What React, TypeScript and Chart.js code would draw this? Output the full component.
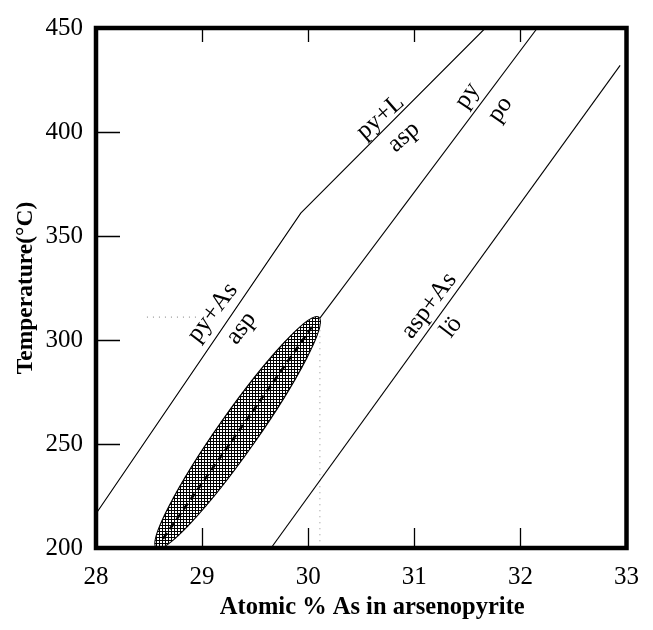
import { useEffect, useRef } from "react";
import { Chart, registerables } from "chart.js";
Chart.register(...registerables);

// ---- data ----
const xTickValues = [28, 29, 30, 31, 32, 33];
const yTickValues = [200, 250, 300, 350, 400, 450];
const innerXTicks = [29, 30, 31, 32];
const innerYTicks = [250, 300, 350, 400];

const aspUpperX = [28, 29.93, 31.67];
const aspUpperY = [216.5, 361, 450];
const pyPoX = [30.11, 32.16];
const pyPoY = [310.5, 450];
const aspLoX = [29.65, 32.94];
const aspLoY = [200, 432];
const dropX = [30.11, 30.11];
const dropY = [310.5, 200];
const guideX = [28.48, 28.97];
const guideY = [311, 311];
const fieldX = [28.57, 30.1];
const fieldY = [200, 311];

const labelTexts = ["py+L", "asp", "py", "po", "py+As", "asp", "asp+As", "lö"];
const labelX = [30.68, 30.9, 31.5, 31.81, 29.1, 29.37, 31.14, 31.35];
const labelY = [407.1, 397.6, 417.5, 410.8, 313.2, 305.7, 316.5, 306.1];

const xTitle = "Atomic % As in arsenopyrite";
const yTitle = "Temperature(°C)";

// ---- styles ----
const labelAngles = [-41, -41, -56, -55, -53, -53, -53, -53];
const FIELD_HALF_WIDTH = 19.5;
const SERIF = "'Liberation Serif', 'Times New Roman', serif";
const X_TITLE_SHIFT = 11;
const X_TITLE_Y = 608;

const pts = (xs: number[], ys: number[]) => xs.map((x, i) => ({ x, y: ys[i] }));

function makePattern(ctx: CanvasRenderingContext2D) {
  const t = document.createElement("canvas");
  t.width = 3;
  t.height = 3;
  const c = t.getContext("2d")!;
  c.fillStyle = "#fff";
  c.fillRect(0, 0, 3, 3);
  c.fillStyle = "#000";
  c.fillRect(0, 0, 3, 1);
  c.fillRect(0, 0, 1, 3);
  return ctx.createPattern(t, "repeat");
}

const overlay = {
  id: "overlay",
  beforeDatasetsDraw(chart: any) {
    const { ctx, chartArea: a } = chart;
    const xs = chart.scales.x;
    const ys = chart.scales.y;
    const x1 = xs.getPixelForValue(fieldX[0]);
    const y1 = ys.getPixelForValue(fieldY[0]);
    const x2 = xs.getPixelForValue(fieldX[1]);
    const y2 = ys.getPixelForValue(fieldY[1]);
    const cx = (x1 + x2) / 2;
    const cy = (y1 + y2) / 2;
    const half = Math.hypot(x2 - x1, y2 - y1) / 2;
    const ang = Math.atan2(y2 - y1, x2 - x1);
    ctx.save();
    ctx.beginPath();
    ctx.rect(a.left, a.top, a.right - a.left, a.bottom - a.top);
    ctx.clip();
    ctx.beginPath();
    ctx.ellipse(cx, cy, half, FIELD_HALF_WIDTH, ang, 0, Math.PI * 2);
    ctx.fillStyle = makePattern(ctx) as any;
    ctx.fill();
    ctx.lineWidth = 1.2;
    ctx.strokeStyle = "#000";
    ctx.stroke();
    ctx.beginPath();
    ctx.setLineDash([7, 5]);
    ctx.lineWidth = 2.5;
    ctx.moveTo(x1 + (x2 - x1) * 0.04, y1 + (y2 - y1) * 0.04);
    ctx.lineTo(x2 - (x2 - x1) * 0.04, y2 - (y2 - y1) * 0.04);
    ctx.stroke();
    ctx.restore();
  },
  afterDraw(chart: any) {
    const { ctx, chartArea: a } = chart;
    const xs = chart.scales.x;
    const ys = chart.scales.y;
    ctx.save();
    ctx.fillStyle = "#000";
    // x title
    ctx.font = `bold 24.5px ${SERIF}`;
    ctx.textAlign = "center";
    ctx.textBaseline = "middle";
    ctx.fillText(xTitle, (a.left + a.right) / 2 + X_TITLE_SHIFT, X_TITLE_Y);
    // labels
    ctx.font = `25px ${SERIF}`;
    labelTexts.forEach((t, i) => {
      ctx.save();
      ctx.translate(xs.getPixelForValue(labelX[i]), ys.getPixelForValue(labelY[i]));
      ctx.rotate((labelAngles[i] * Math.PI) / 180);
      ctx.fillText(t, 0, 0);
      ctx.restore();
    });
    // inner ticks
    ctx.strokeStyle = "#000";
    ctx.lineWidth = 1.3;
    ctx.beginPath();
    innerXTicks.forEach((v) => {
      const px = Math.round(xs.getPixelForValue(v)) + 0.5;
      ctx.moveTo(px, a.bottom);
      ctx.lineTo(px, a.bottom - 20);
      ctx.moveTo(px, a.top);
      ctx.lineTo(px, a.top + 14);
    });
    innerYTicks.forEach((v) => {
      const py = Math.round(ys.getPixelForValue(v)) + 0.5;
      ctx.moveTo(a.left, py);
      ctx.lineTo(a.left + 24, py);
    });
    ctx.stroke();
    // frame
    ctx.lineWidth = 4.5;
    ctx.strokeRect(a.left, a.top, a.right - a.left, a.bottom - a.top);
    ctx.restore();
  },
};

export default function App() {
  const ref = useRef<HTMLCanvasElement>(null);
  useEffect(() => {
    document.body.style.margin = "0";
    const line = (data: any[], extra: any = {}) => ({
      data,
      showLine: true,
      borderColor: "#000",
      borderWidth: 1.1,
      pointRadius: 0,
      fill: false,
      tension: 0,
      ...extra,
    });
    const chart = new Chart(ref.current!, {
      type: "scatter",
      data: {
        datasets: [
          line(pts(aspUpperX, aspUpperY)),
          line(pts(pyPoX, pyPoY)),
          line(pts(aspLoX, aspLoY)),
          line(pts(dropX, dropY), { borderColor: "#999", borderDash: [1, 5] }),
          line(pts(guideX, guideY), { borderColor: "#999", borderDash: [1, 5] }),
        ],
      },
      options: {
        animation: false,
        responsive: false,
        events: [],
        layout: { padding: { top: 18, right: 21, left: 0, bottom: 0 } },
        plugins: { legend: { display: false }, tooltip: { enabled: false } },
        scales: {
          x: {
            type: "linear",
            min: 28,
            max: 33,
            afterBuildTicks: (s: any) => {
              s.ticks = xTickValues.map((v) => ({ value: v }));
            },
            afterFit: (s: any) => {
              s.height = 82;
            },
            grid: { display: false, drawTicks: false },
            border: { display: false },
            ticks: {
              color: "#000",
              font: { family: SERIF, size: 25 },
              padding: 14,
              maxRotation: 0,
            },
            title: { display: false },
          },
          y: {
            type: "linear",
            min: 200,
            max: 450,
            afterBuildTicks: (s: any) => {
              s.ticks = yTickValues.map((v) => ({ value: v }));
            },
            afterFit: (s: any) => {
              s.width = 96;
            },
            grid: { display: false, drawTicks: false },
            border: { display: false },
            ticks: {
              color: "#000",
              font: { family: SERIF, size: 25 },
              padding: 13,
            },
            title: {
              display: true,
              text: yTitle,
              color: "#000",
              font: { family: SERIF, size: 23.5, weight: "bold" },
              padding: { top: 12, bottom: 0 },
            },
          },
        },
      },
      plugins: [overlay],
    } as any);
    return () => chart.destroy();
  }, []);
  return (
    <div style={{ width: 653, height: 630 }}>
      <canvas ref={ref} width={653} height={630} style={{ display: "block" }} />
    </div>
  );
}
